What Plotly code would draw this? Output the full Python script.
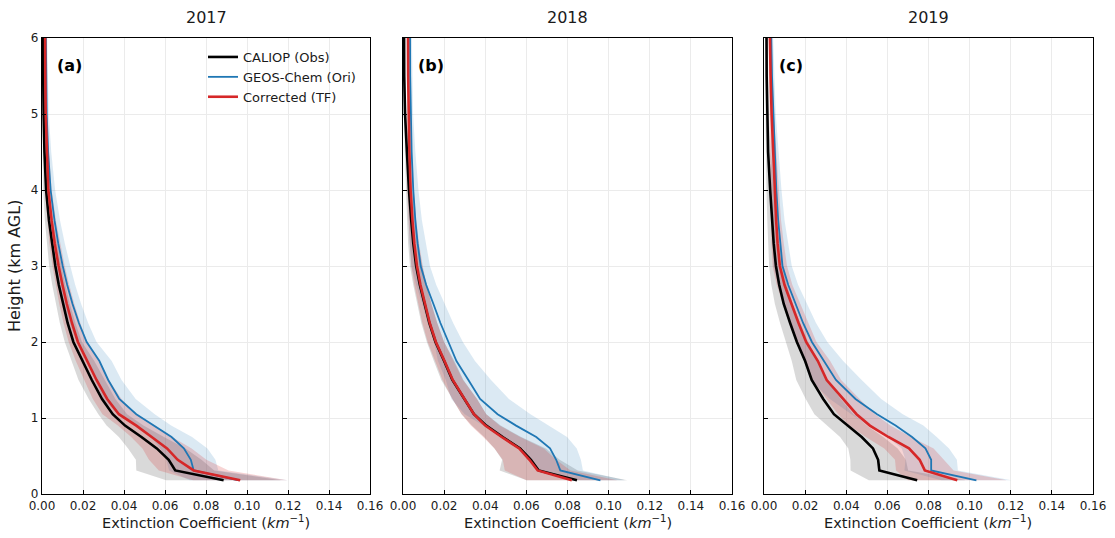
import plotly.graph_objects as go

# ---------------- data ----------------
heights = [0.18, 0.31, 0.45, 0.6, 0.75, 0.9, 1.05, 1.25, 1.5, 1.75, 2.0,
           2.25, 2.5, 2.75, 3.0, 3.3, 3.6, 4.0, 4.5, 5.0, 5.5, 6.2]

years = ["2017", "2018", "2019"]
panel_labels = ["(a)", "(b)", "(c)"]

# 2017
caliop_2017 = [0.0886, 0.0650, 0.0618, 0.0560, 0.0485, 0.0405, 0.0345, 0.0293, 0.0243, 0.0200, 0.0153,
               0.0125, 0.0102, 0.0082, 0.0065, 0.0048, 0.0034, 0.0020, 0.0012, 0.0008, 0.0005, 0.0003]
geos_2017 = [0.0960, 0.0740, 0.0726, 0.0692, 0.0632, 0.0545, 0.0460, 0.0377, 0.0323, 0.0280, 0.0218,
             0.0180, 0.0149, 0.0123, 0.0101, 0.0079, 0.0061, 0.0042, 0.0030, 0.0023, 0.0020, 0.0018]
tf_2017 = [0.0967, 0.0740, 0.0662, 0.0610, 0.0535, 0.0460, 0.0375, 0.0318, 0.0266, 0.0220, 0.0175,
           0.0146, 0.0121, 0.0100, 0.0081, 0.0062, 0.0047, 0.0031, 0.0023, 0.0018, 0.0016, 0.0015]
caliop_sd_2017 = [0.028, 0.019, 0.016, 0.014, 0.011, 0.009, 0.007, 0.0065, 0.0065, 0.0055, 0.0042,
                  0.0038, 0.0034, 0.0032, 0.0030, 0.0025, 0.0020, 0.0014, 0.0009, 0.0006, 0.0004, 0.0003]
geos_sd_2017 = [0.024, 0.012, 0.012, 0.0115, 0.010, 0.0085, 0.009, 0.008, 0.0065, 0.006, 0.0048,
                0.0045, 0.0042, 0.0039, 0.0037, 0.0032, 0.0027, 0.0022, 0.0015, 0.0010, 0.0008, 0.0006]
tf_sd_2017 = [0.023, 0.017, 0.014, 0.012, 0.010, 0.009, 0.008, 0.007, 0.006, 0.0055, 0.0045,
              0.0041, 0.0037, 0.0033, 0.0030, 0.0026, 0.0021, 0.0016, 0.0010, 0.0007, 0.0005, 0.0004]

# 2018
caliop_2018 = [0.0846, 0.0660, 0.0622, 0.0570, 0.0485, 0.0405, 0.0345, 0.0300, 0.0240, 0.0200, 0.0158,
               0.0128, 0.0104, 0.0082, 0.0064, 0.0050, 0.0040, 0.0029, 0.0019, 0.0010, 0.0006, 0.0005]
geos_2018 = [0.0960, 0.0765, 0.0745, 0.0715, 0.0648, 0.0550, 0.0460, 0.0375, 0.0318, 0.0260, 0.0221,
             0.0182, 0.0148, 0.0113, 0.0086, 0.0071, 0.0060, 0.0050, 0.0042, 0.0037, 0.0035, 0.0034]
tf_2018 = [0.0821, 0.0655, 0.0615, 0.0565, 0.0480, 0.0400, 0.0345, 0.0300, 0.0242, 0.0202, 0.0160,
           0.0130, 0.0106, 0.0085, 0.0068, 0.0055, 0.0046, 0.0037, 0.0031, 0.0027, 0.0025, 0.0024]
caliop_sd_2018 = [0.0245, 0.019, 0.014, 0.0125, 0.009, 0.007, 0.006, 0.006, 0.0054, 0.005, 0.0042,
                  0.0039, 0.0035, 0.0032, 0.0030, 0.0025, 0.0020, 0.0015, 0.0010, 0.0006, 0.0004, 0.0003]
geos_sd_2018 = [0.012, 0.011, 0.012, 0.013, 0.015, 0.016, 0.016, 0.014, 0.011, 0.009, 0.007,
                0.0062, 0.0054, 0.0049, 0.0045, 0.0039, 0.0032, 0.0025, 0.0018, 0.0012, 0.0010, 0.0008]
tf_sd_2018 = [0.022, 0.016, 0.013, 0.012, 0.009, 0.007, 0.006, 0.006, 0.005, 0.0045, 0.004,
              0.0036, 0.0032, 0.0030, 0.0028, 0.0023, 0.0019, 0.0015, 0.0010, 0.0008, 0.0006, 0.0005]

# 2019
caliop_2019 = [0.0745, 0.0561, 0.0555, 0.0530, 0.0475, 0.0405, 0.0340, 0.0288, 0.0232, 0.0200, 0.0160,
               0.0127, 0.0096, 0.0074, 0.0058, 0.0047, 0.0039, 0.0030, 0.0020, 0.0015, 0.0013, 0.0012]
geos_2019 = [0.1033, 0.0813, 0.0813, 0.0785, 0.0720, 0.0640, 0.0550, 0.0445, 0.0350, 0.0290, 0.0233,
             0.0190, 0.0154, 0.0118, 0.0090, 0.0078, 0.0069, 0.0060, 0.0053, 0.0045, 0.0039, 0.0034]
tf_2019 = [0.0940, 0.0782, 0.0757, 0.0705, 0.0605, 0.0515, 0.0450, 0.0385, 0.0305, 0.0262, 0.0205,
           0.0168, 0.0134, 0.0100, 0.0077, 0.0066, 0.0059, 0.0052, 0.0045, 0.0037, 0.0032, 0.0028]
caliop_sd_2019 = [0.0235, 0.014, 0.0135, 0.012, 0.0105, 0.0095, 0.0095, 0.0085, 0.0075, 0.0065, 0.0055,
                  0.0049, 0.0043, 0.0038, 0.0033, 0.0028, 0.0023, 0.0018, 0.0012, 0.0008, 0.0006, 0.0005]
geos_sd_2019 = [0.017, 0.013, 0.0125, 0.0115, 0.012, 0.0135, 0.0125, 0.0125, 0.0125, 0.0095, 0.0075,
                0.0063, 0.0054, 0.0048, 0.0045, 0.0038, 0.0031, 0.0025, 0.0018, 0.0012, 0.0010, 0.0008]
tf_sd_2019 = [0.024, 0.014, 0.012, 0.012, 0.011, 0.010, 0.009, 0.008, 0.007, 0.006, 0.005,
              0.0046, 0.0042, 0.0038, 0.0035, 0.0030, 0.0024, 0.0020, 0.0015, 0.0010, 0.0008, 0.0006]

caliop = [caliop_2017, caliop_2018, caliop_2019]
geos = [geos_2017, geos_2018, geos_2019]
tf = [tf_2017, tf_2018, tf_2019]
caliop_sd = [caliop_sd_2017, caliop_sd_2018, caliop_sd_2019]
geos_sd = [geos_sd_2017, geos_sd_2018, geos_sd_2019]
tf_sd = [tf_sd_2017, tf_sd_2018, tf_sd_2019]

series_names = ["CALIOP (Obs)", "GEOS-Chem (Ori)", "Corrected (TF)"]
line_colors = ["#000000", "#1f77b4", "#d62728"]
fill_colors = ["rgba(128,128,128,0.30)", "rgba(31,119,180,0.16)", "rgba(214,39,40,0.20)"]
line_widths = [2.6, 1.8, 2.6]

x_ticks = [0.0, 0.02, 0.04, 0.06, 0.08, 0.10, 0.12, 0.14, 0.16]
y_ticks = [0, 1, 2, 3, 4, 5, 6]

# ---------------- figure ----------------
W, H = 1115, 538
FONT = "DejaVu Sans"
TXT = "#1a1a1a"

x_doms = [[42 / W, 370 / W], [403 / W, 732 / W], [764 / W, 1093 / W]]
y_dom = [1 - 494 / H, 1 - 38 / H]

fig = go.Figure()

for p in range(3):
    xa = "x" if p == 0 else f"x{p+1}"
    ya = "y" if p == 0 else f"y{p+1}"
    means = [caliop[p], geos[p], tf[p]]
    sds = [caliop_sd[p], geos_sd[p], tf_sd[p]]
    # shaded bands (mean +/- spread)
    for s in range(3):
        lo = [m - d for m, d in zip(means[s], sds[s])]
        hi = [m + d for m, d in zip(means[s], sds[s])]
        fig.add_trace(go.Scatter(
            x=lo + hi[::-1], y=heights + heights[::-1],
            fill="toself", fillcolor=fill_colors[s], mode="lines",
            line=dict(width=0, color="rgba(0,0,0,0)"),
            hoverinfo="skip", showlegend=False, xaxis=xa, yaxis=ya))
    # mean profiles
    for s in range(3):
        fig.add_trace(go.Scatter(
            x=means[s], y=heights, mode="lines", name=series_names[s],
            legendgroup=series_names[s],
            line=dict(color=line_colors[s], width=line_widths[s]),
            showlegend=(p == 0), xaxis=xa, yaxis=ya))

axis_common = dict(
    showline=True, linecolor="#000000", linewidth=1.2, mirror=True,
    ticks="inside", ticklen=4, tickwidth=1, tickcolor="#000000",
    showgrid=True, gridcolor="#ebebeb", gridwidth=1, zeroline=False,
    automargin=False,
    tickfont=dict(family=FONT, size=12, color=TXT),
)

layout = dict(
    template="none",
    width=W, height=H,
    margin=dict(l=0, r=0, t=0, b=0, pad=0, autoexpand=False),
    paper_bgcolor="white", plot_bgcolor="white",
    font=dict(family=FONT, color=TXT),
    legend=dict(x=203 / W, y=1 - 42 / H, xanchor="left", yanchor="top",
                bgcolor="rgba(255,255,255,0)", borderwidth=0,
                font=dict(family=FONT, size=13, color=TXT),
                itemwidth=30, tracegroupgap=1.5, traceorder="normal"),
    showlegend=True,
)
for p in range(3):
    xk = "xaxis" if p == 0 else f"xaxis{p+1}"
    yk = "yaxis" if p == 0 else f"yaxis{p+1}"
    layout[xk] = dict(axis_common, domain=x_doms[p], range=[0, 0.16],
                      tickvals=x_ticks, ticktext=[f"{v:.2f}" for v in x_ticks],
                      anchor="y" if p == 0 else f"y{p+1}")
    layout[yk] = dict(axis_common, domain=y_dom, range=[0, 6],
                      tickvals=y_ticks, showticklabels=(p == 0),
                      anchor="x" if p == 0 else f"x{p+1}")
fig.update_layout(**layout)

annotations = []
for p in range(3):
    cx = (x_doms[p][0] + x_doms[p][1]) / 2
    annotations.append(dict(text=years[p], x=cx, y=1 - 17 / H, xref="paper", yref="paper",
                            xanchor="center", yanchor="middle", showarrow=False,
                            font=dict(family=FONT, size=16, color=TXT)))
    annotations.append(dict(text="Extinction Coefficient (<i>km</i><sup>−1</sup>)",
                            x=cx, y=1 - 522 / H, xref="paper", yref="paper",
                            xanchor="center", yanchor="middle", showarrow=False,
                            font=dict(family=FONT, size=14.5, color=TXT)))
    xr = "x domain" if p == 0 else f"x{p+1} domain"
    yr = "y domain" if p == 0 else f"y{p+1} domain"
    annotations.append(dict(text=f"<b>{panel_labels[p]}</b>", x=0.04, y=(494 - 65) / 456,
                            xref=xr, yref=yr, xanchor="left", yanchor="middle",
                            showarrow=False, font=dict(family=FONT, size=16, color="#000000")))
annotations.append(dict(text="Height (km AGL)", x=15 / W, y=1 - 266 / H, xref="paper", yref="paper",
                        xanchor="center", yanchor="middle", textangle=-90, showarrow=False,
                        font=dict(family=FONT, size=16, color=TXT)))
fig.update_layout(annotations=annotations)

fig.write_html("out.html")
